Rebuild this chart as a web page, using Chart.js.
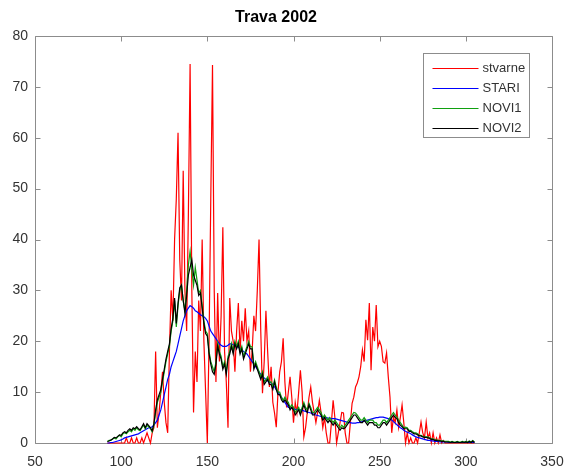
<!DOCTYPE html>
<html>
<head>
<meta charset="utf-8">
<script src="https://cdn.jsdelivr.net/npm/chart.js@4.4.1/dist/chart.umd.min.js"></script>
<style>
  html, body { margin: 0; padding: 0; background: #fff; }
  #wrap { width: 566px; height: 470px; }
</style>
</head>
<body>
<div id="wrap"><canvas id="c" width="566" height="470"></canvas></div>
<script>
// Grass pollen season 2002: measured daily counts and three model curves.
const firstDay = 92;

const stvarne = [
  0,0,0,0,0,0,0,0,0,0,
  0,1,0,0,1,0,0,1,0,0,
  1,0,1,2,1,0,2,3,18,3,
  6,10,14,8,4,2,18,30,24,40,
  48,61,36,28,53.5,30,22,45,74.5,30,
  6,18,12,28,22,40,20,10,0,20,
  48,74.3,30,12,29.5,16,25,42.4,18,12,
  3,28.5,22,20,14,22,27.5,18,24,20,
  26.5,20,22,14,18,25,22,30,40,22,
  9.8,16,26,18,11,15,8,5.9,3.1,10,
  14,16,20.6,12,7,10,13,9,4,8,
  5.9,10,14.3,10,1.2,3,6,9,11,8,
  6,4,6,8.4,6,3,5,2,0,0,
  4,8.4,5,0,2,4,6,5.9,2,0,
  0,4,7.8,9,11,11.8,13,15,18.3,16,
  24.2,20.2,27.5,14.3,22.8,20,27.1,18.9,20,19,
  16,15.7,17.7,13,9,2,5.1,4,6.5,3,
  5,7.5,4,0,2,0,1,0,0,1,
  0,2,4.1,2,1,4.1,1,2,0,2,
  0,1,0,1.6,0,0.5,0,0,0,0,
  0,0,0,0,0,0,0,0,0,0,
  0,0,0,0
];

const stari = [
  0,0,0.1,0.1,0.2,0.3,0.4,0.5,0.6,0.8,
  1,1.1,1.2,1.3,1.4,1.5,1.6,1.7,1.8,2,
  2.2,2.4,2.6,2.8,3,3,3.2,3.5,4,4.5,
  5.5,6.5,8,9.5,11,12.5,13.5,15,16,17,
  18,19.5,21,22.5,24,25,26,26.5,27,26.8,
  26.5,26,25.8,25.5,25.2,25,24.8,24.5,24,23,
  22,21.5,21,20.5,20,19.5,19.2,19,19,19,
  19.2,19.5,19.5,19.3,19.2,19,18.8,18.5,18.3,18,
  17.7,17.5,17,16.5,16,15.5,15,14.5,14,13.5,
  13,12.8,12.5,12.2,12,11.8,11.5,11,10.5,10,
  9.5,9,8.5,8,7.5,7,7,6.8,6.7,6.6,
  6.5,6.5,6.5,6.4,6.3,6.2,6.1,6,5.9,5.8,
  5.6,5.5,5.4,5.3,5.2,5.1,5,5,4.9,4.9,
  4.8,4.8,4.8,4.7,4.6,4.5,4.4,4.3,4.2,4.1,
  4,4,3.9,3.9,3.9,4,4,4.1,4.2,4.3,
  4.4,4.5,4.6,4.7,4.8,4.9,5,5,5.1,5.1,
  5.1,5,4.9,4.8,4.7,4.5,4.2,3.9,3.6,3.3,
  3,2.8,2.5,2.3,2.1,2,1.8,1.6,1.4,1.2,
  1.1,1,0.9,0.8,0.7,0.6,0.5,0.5,0.4,0.4,
  0.3,0.3,0.3,0.2,0.2,0.2,0.2,0.2,0.1,0.1,
  0.1,0.1,0.1,0.1,0.1,0.1,0.1,0.1,0.1,0.1,
  0.1,0.1,0.1,0.1
];

const novi1 = [
  0.3,0.5,0.5,0.8,1,0.8,1.2,1.5,1.2,1.8,
  2,1.8,2.2,2.5,2.2,2.8,2.5,3,2.6,2.4,
  3,3.5,2.8,3.5,3.2,2.8,2.2,3.5,6,8,
  9,10,12,14,16,17.5,19,22,24,28,
  22.8,27,30,31,28,26,30,35,37.7,34,
  31,34.5,32,29.5,30,27,24,22,21.5,18,
  16,15,14,16,19.6,18,17,15,16,14,
  17,18,19.6,18,20,19,20,18,19,17,
  18,19,20,19,18.9,15,16,15,14,13,
  14,12,12.4,13,12,12,11,12.4,11,10,
  10,9,8.4,9,8.4,8,7,7.5,7,6,
  6.5,7,6,7,8,7,6.5,7.8,7,6,
  6,6.5,7,6.5,6,5,5.5,5,4.5,5,
  4.5,4,4.5,4,3.5,3,3.5,3.1,3.5,4,
  4.5,5,5.5,6,5.9,5.5,5,4.5,4.5,5,
  4.5,4,4.5,4.5,4.5,4,4,3.5,3.5,4,
  4.5,4.5,4,4.5,5,5.5,6,5.5,5.1,4.5,
  4,3.5,3,3.1,3,2.5,2.5,2.2,2,2,
  1.8,1.5,1.5,1.3,1.2,1.2,1.2,1,0.8,0.8,
  0.6,0.6,0.5,0.5,0.4,0.4,0.3,0.3,0.3,0.2,
  0.3,0.2,0.2,0.3,0.2,0.2,0.3,0.2,0.3,0.2,
  0.4,0.2,0.5,0.2
];

const novi2 = [
  0.3,0.4,0.6,0.8,1.1,1,1.3,1.6,1.5,2,
  2.2,2,2.5,2.8,2.5,3,2.8,3.2,2.8,2.6,
  3.2,3.8,3,3.8,3.4,3,2.4,3.8,6.5,8.5,
  9.5,10.5,12.5,14.5,16.5,18,19.5,22.5,24.5,28.5,
  23.5,27.5,30.5,31,28,25.5,29,33,34.5,36,
  33,32,31,29,29.5,26.5,23.5,21.5,21,17.5,
  15.5,14,13.5,15.5,19,17.5,16.5,14.5,15.5,13.5,
  16.5,17.5,19,17.5,19.5,18.5,19.5,17.5,18.5,16.5,
  17.5,18.5,19.5,18.5,18.5,14.5,15.5,14.5,13.5,12.5,
  13.5,11.5,12,12.5,11.5,11.5,10.5,12,10.5,9.5,
  9.5,8.5,8,8.5,8,7.5,6.5,7,6.5,5.5,
  6,6.5,5.5,6.5,7.5,6.5,6,7.5,6.5,5.5,
  5.5,6,6.5,6,5.5,4.5,5,4.5,4,4.5,
  4,3.5,4,3.5,3,2.5,3,2.8,3,3.5,
  4,4.5,5,5.5,5.5,5,4.5,4,4,4.5,
  4,3.5,4,4,4,3.5,3.5,3,3,3.5,
  4,4,3.5,4,4.5,5,5.5,5,4.8,4,
  3.5,3.2,2.8,2.8,2.8,2.3,2.3,2,1.8,1.8,
  1.6,1.4,1.4,1.2,1.1,1.1,1,0.9,0.7,0.7,
  0.5,0.5,0.4,0.4,0.3,0.3,0.2,0.2,0.2,0.1,
  0.2,0.1,0.1,0.2,0.1,0.1,0.2,0.1,0.2,0.1,
  0.3,0.1,0.4,0.1
];

const xTicks = [50, 100, 150, 200, 250, 300, 350];
const yTicks = [0, 10, 20, 30, 40, 50, 60, 70, 80];

const days = stvarne.map((_, i) => firstDay + i);
const toPoints = arr => arr.map((v, i) => ({ x: days[i], y: v }));

const FONT = '"Liberation Sans", Arial, Helvetica, sans-serif';
const AXIS_COLOR = '#8c8c8c';
const TEXT_COLOR = '#333333';

// Box around the plot area with inward tick marks on all four sides.
const boxAxes = {
  id: 'boxAxes',
  beforeDatasetsDraw(chart) {
    const { ctx, chartArea: a, scales: { x, y } } = chart;
    const L = Math.round(a.left) + 0.5, R = Math.round(a.right) + 0.5;
    const T = Math.round(a.top) + 0.5, B = Math.round(a.bottom) + 0.5;
    ctx.save();
    ctx.strokeStyle = AXIS_COLOR;
    ctx.lineWidth = 1;
    ctx.beginPath();
    ctx.rect(L, T, R - L, B - T);
    const len = 5;
    x.ticks.forEach(t => {
      const px = Math.round(x.getPixelForValue(t.value)) + 0.5;
      ctx.moveTo(px, B); ctx.lineTo(px, B - len);
      ctx.moveTo(px, T); ctx.lineTo(px, T + len);
    });
    y.ticks.forEach(t => {
      const py = Math.round(y.getPixelForValue(t.value)) + 0.5;
      ctx.moveTo(L, py); ctx.lineTo(L + len, py);
      ctx.moveTo(R, py); ctx.lineTo(R - len, py);
    });
    ctx.stroke();
    ctx.restore();
  }
};

// Boxed legend in the upper right corner of the plot area.
const boxLegend = {
  id: 'boxLegend',
  afterDatasetsDraw(chart) {
    const { ctx, chartArea: a } = chart;
    const w = 106, h = 84;
    const left = Math.round(a.right) - 23 - w + 0.5;
    const top = Math.round(a.top) + 17 + 0.5;
    ctx.save();
    ctx.fillStyle = '#ffffff';
    ctx.fillRect(left, top, w, h);
    ctx.strokeStyle = AXIS_COLOR;
    ctx.lineWidth = 1;
    ctx.strokeRect(left, top, w, h);
    ctx.font = '13px ' + FONT;
    ctx.textBaseline = 'middle';
    ctx.fillStyle = TEXT_COLOR;
    chart.data.datasets.forEach((ds, i) => {
      const yy = Math.round(top + 14 + i * 20) + 0.5;
      ctx.strokeStyle = ds.borderColor;
      ctx.lineWidth = 1;
      ctx.beginPath();
      ctx.moveTo(left + 9, yy);
      ctx.lineTo(left + 55, yy);
      ctx.stroke();
      ctx.fillText(ds.label, left + 59, yy);
    });
    ctx.restore();
  }
};

const lineDefaults = { borderWidth: 1.2, pointRadius: 0, tension: 0, fill: false, clip: false };

new Chart(document.getElementById('c'), {
  type: 'line',
  data: {
    datasets: [
      { label: 'stvarne', data: toPoints(stvarne), borderColor: '#ff0000', order: 4, ...lineDefaults },
      { label: 'STARI',   data: toPoints(stari),   borderColor: '#0000ff', order: 3, ...lineDefaults },
      { label: 'NOVI1',   data: toPoints(novi1),   borderColor: '#10a010', order: 2, ...lineDefaults },
      { label: 'NOVI2',   data: toPoints(novi2),   borderColor: '#000000', order: 1, ...lineDefaults }
    ]
  },
  options: {
    responsive: false,
    animation: false,
    devicePixelRatio: 1,
    layout: { padding: { left: 0, right: 14, top: 0, bottom: 0 } },
    plugins: {
      legend: { display: false },
      tooltip: { enabled: false },
      title: {
        display: true,
        text: 'Trava 2002',
        color: '#000000',
        font: { family: FONT, size: 16, weight: 'bold', lineHeight: 1.2 },
        padding: { top: 8, bottom: 8.8 }
      }
    },
    scales: {
      x: {
        type: 'linear',
        min: 50, max: 350,
        afterBuildTicks: s => { s.ticks = xTicks.map(v => ({ value: v })); },
        afterFit: s => { s.height = 27; s.paddingLeft = 0; s.paddingRight = 0; },
        grid: { display: false, drawTicks: false },
        border: { display: false },
        ticks: { color: TEXT_COLOR, font: { family: FONT, size: 14 }, padding: 11, maxRotation: 0, autoSkip: false }
      },
      y: {
        type: 'linear',
        min: 0, max: 80,
        afterBuildTicks: s => { s.ticks = yTicks.map(v => ({ value: v })); },
        afterFit: s => { s.width = 35; s.paddingTop = 0; s.paddingBottom = 0; },
        grid: { display: false, drawTicks: false },
        border: { display: false },
        ticks: { color: TEXT_COLOR, font: { family: FONT, size: 14 }, padding: 7, autoSkip: false }
      }
    }
  },
  plugins: [boxAxes, boxLegend]
});
</script>
</body>
</html>
